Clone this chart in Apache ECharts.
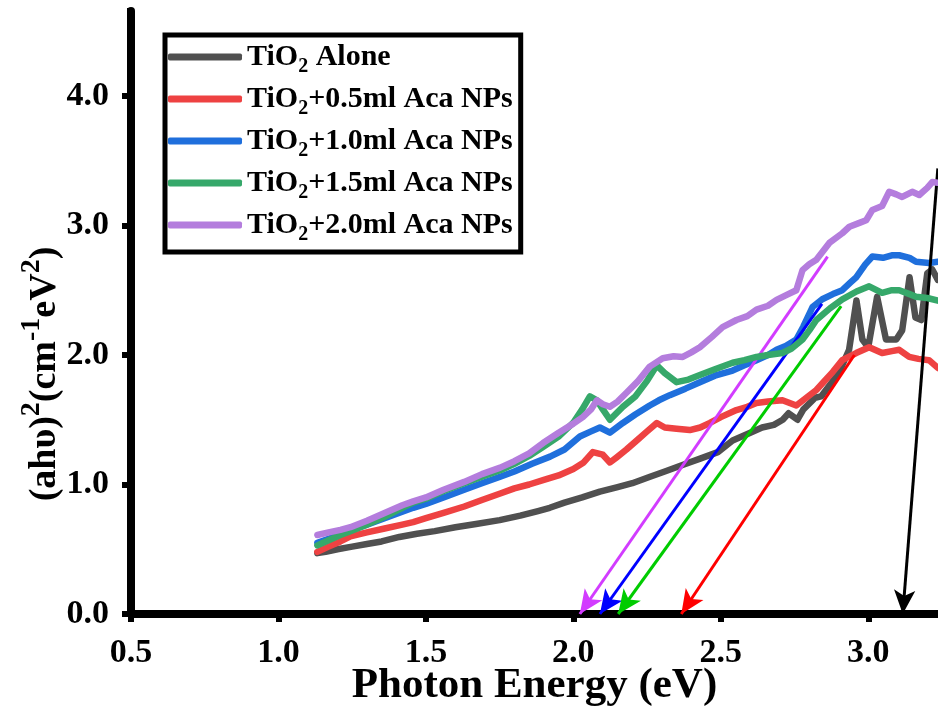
<!DOCTYPE html>
<html><head><meta charset="utf-8">
<script src="https://cdn.jsdelivr.net/npm/echarts@6/dist/echarts.min.js"></script>
<style>html,body{margin:0;padding:0;background:#fff}#c{width:938px;height:707px}</style>
</head><body><div id="c"></div>
<script>
// ---------- data ----------
const seriesNames = ['TiO2 Alone','TiO2+0.5ml Aca NPs','TiO2+1.0ml Aca NPs','TiO2+1.5ml Aca NPs','TiO2+2.0ml Aca NPs'];
const legendLabels = ['{t|TiO}{sub|2}{t| Alone}','{t|TiO}{sub|2}{t|+0.5ml Aca NPs}','{t|TiO}{sub|2}{t|+1.0ml Aca NPs}','{t|TiO}{sub|2}{t|+1.5ml Aca NPs}','{t|TiO}{sub|2}{t|+2.0ml Aca NPs}'];
const seriesColors = ['#505050','#ee4242','#1f6fdc','#36a86a','#b47ddd'];

const tio2Alone = [[1.132,0.47],[1.16,0.48],[1.20,0.50],[1.25,0.52],[1.30,0.54],[1.35,0.56],[1.41,0.595],[1.47,0.62],[1.53,0.64],[1.60,0.67],[1.67,0.695],[1.75,0.725],[1.82,0.76],[1.88,0.795],[1.92,0.82],[1.97,0.86],[2.03,0.90],[2.09,0.945],[2.15,0.98],[2.20,1.01],[2.26,1.06],[2.31,1.10],[2.37,1.15],[2.43,1.20],[2.49,1.25],[2.54,1.34],[2.60,1.40],[2.64,1.44],[2.68,1.46],[2.71,1.50],[2.73,1.55],[2.76,1.50],[2.78,1.58],[2.82,1.67],[2.84,1.68],[2.88,1.80],[2.90,1.86],[2.935,2.04],[2.96,2.42],[2.98,2.12],[3.00,2.06],[3.03,2.45],[3.06,2.12],[3.095,2.12],[3.115,2.19],[3.14,2.60],[3.16,2.29],[3.18,2.27],[3.20,2.63],[3.217,2.66],[3.236,2.58]];
const tio2Aca05 = [[1.132,0.48],[1.17,0.52],[1.21,0.56],[1.244,0.60],[1.30,0.63],[1.36,0.66],[1.42,0.69],[1.457,0.71],[1.50,0.74],[1.56,0.78],[1.63,0.83],[1.69,0.88],[1.752,0.93],[1.80,0.97],[1.85,1.00],[1.90,1.035],[1.95,1.07],[2.00,1.12],[2.035,1.17],[2.066,1.25],[2.10,1.23],[2.124,1.17],[2.147,1.21],[2.18,1.27],[2.215,1.34],[2.25,1.41],[2.283,1.475],[2.31,1.44],[2.35,1.43],[2.395,1.42],[2.43,1.44],[2.463,1.475],[2.50,1.52],[2.553,1.575],[2.59,1.60],[2.621,1.63],[2.66,1.64],[2.709,1.65],[2.756,1.61],[2.79,1.67],[2.824,1.73],[2.844,1.78],[2.88,1.87],[2.912,1.96],[2.959,2.015],[3.003,2.06],[3.047,2.015],[3.08,2.03],[3.105,2.04],[3.139,1.985],[3.17,1.97],[3.206,1.96],[3.236,1.90]];
const tio2Aca10 = [[1.132,0.55],[1.17,0.58],[1.21,0.62],[1.244,0.65],[1.30,0.69],[1.36,0.74],[1.42,0.79],[1.457,0.82],[1.50,0.85],[1.56,0.90],[1.63,0.96],[1.69,1.01],[1.752,1.06],[1.80,1.10],[1.86,1.16],[1.921,1.215],[1.97,1.27],[2.022,1.37],[2.06,1.41],[2.09,1.44],[2.124,1.40],[2.168,1.475],[2.21,1.54],[2.259,1.61],[2.29,1.65],[2.327,1.69],[2.38,1.74],[2.429,1.79],[2.48,1.84],[2.54,1.88],[2.58,1.92],[2.621,1.96],[2.66,2.00],[2.689,2.04],[2.72,2.07],[2.756,2.12],[2.78,2.22],[2.811,2.37],[2.844,2.43],[2.88,2.47],[2.912,2.50],[2.94,2.56],[2.959,2.60],[2.99,2.70],[3.014,2.76],[3.05,2.75],[3.08,2.77],[3.105,2.77],[3.14,2.75],[3.162,2.72],[3.206,2.71],[3.236,2.72]];
const tio2Aca15 = [[1.132,0.53],[1.17,0.57],[1.21,0.61],[1.244,0.64],[1.30,0.69],[1.36,0.75],[1.42,0.82],[1.457,0.86],[1.50,0.89],[1.56,0.95],[1.63,1.01],[1.69,1.06],[1.752,1.11],[1.80,1.16],[1.85,1.22],[1.897,1.29],[1.95,1.37],[1.999,1.475],[2.03,1.58],[2.056,1.68],[2.08,1.65],[2.10,1.58],[2.124,1.50],[2.168,1.60],[2.21,1.68],[2.25,1.80],[2.283,1.92],[2.31,1.86],[2.35,1.79],[2.39,1.81],[2.429,1.845],[2.48,1.89],[2.54,1.94],[2.58,1.96],[2.621,1.985],[2.66,2.00],[2.709,2.015],[2.74,2.05],[2.777,2.12],[2.80,2.19],[2.824,2.27],[2.87,2.36],[2.912,2.43],[2.96,2.49],[3.003,2.53],[3.047,2.48],[3.08,2.50],[3.105,2.50],[3.14,2.47],[3.162,2.45],[3.20,2.44],[3.236,2.42]];
const tio2Aca20 = [[1.132,0.61],[1.17,0.63],[1.21,0.65],[1.244,0.67],[1.30,0.72],[1.36,0.78],[1.42,0.84],[1.457,0.87],[1.50,0.90],[1.56,0.96],[1.63,1.02],[1.69,1.08],[1.752,1.13],[1.80,1.18],[1.85,1.24],[1.897,1.32],[1.95,1.40],[2.00,1.47],[2.032,1.52],[2.06,1.58],[2.08,1.65],[2.10,1.62],[2.124,1.60],[2.15,1.64],[2.181,1.71],[2.22,1.80],[2.259,1.91],[2.303,1.975],[2.34,1.99],[2.371,1.985],[2.40,2.02],[2.429,2.06],[2.47,2.14],[2.506,2.215],[2.553,2.27],[2.59,2.30],[2.621,2.35],[2.66,2.38],[2.689,2.425],[2.72,2.46],[2.756,2.50],[2.777,2.655],[2.80,2.70],[2.824,2.735],[2.868,2.865],[2.912,2.94],[2.936,2.99],[2.97,3.02],[2.993,3.04],[3.014,3.12],[3.047,3.15],[3.071,3.26],[3.095,3.24],[3.115,3.22],[3.149,3.26],[3.173,3.235],[3.20,3.29],[3.217,3.335],[3.236,3.33]];
const seriesData = [tio2Alone, tio2Aca05, tio2Aca10, tio2Aca15, tio2Aca20];

// Tangent (Tauc) arrows: [start point, end point on the energy axis]
const arrowColors = ['#000000','#ff0000','#0000ff','#00cc00','#d23cff'];
const arrowStarts = [[3.236,3.44],[2.953,2.00],[2.843,2.394],[2.908,2.378],[2.862,2.759]];
const arrowEnds   = [[3.117,0],[2.366,0],[2.090,0],[2.152,0],[2.022,0]];

const xMin = 0.5, xMax = 3.2365, xStep = 0.5, xMinorStep = 0.25;
const yMin = 0, yMax = 4.656, yStep = 1.0, yMinorStep = 0.5;
const xTitle = 'Photon Energy (eV)';
const yTitleRich = '{m|(ahυ)}{s|2}{m|(cm}{s|-1}{m|eV}{s|2}{m|)}';

// ---------- chart ----------
const FONT = '"Liberation Serif","Times New Roman",serif';
const chart = echarts.init(document.getElementById('c'), null, {renderer:'canvas'});

const series = seriesNames.map((n,i)=>({
  name:n, type:'line', data:seriesData[i], symbol:'none', showSymbol:false,
  lineStyle:{color:seriesColors[i], width:6.5, cap:'round', join:'round'},
  itemStyle:{color:seriesColors[i]}, z:2+i, animation:false, silent:true
}));
series.push({
  name:'arrows', type:'line', data:[], symbol:'none', silent:true, z:10, animation:false,
  markLine:{
    silent:true, animation:false, symbol:['none','arrow'], symbolSize:[16,24],
    label:{show:false}, emphasis:{disabled:true},
    data: arrowStarts.map((s,i)=>[
      {coord:s, lineStyle:{color:arrowColors[i], width:3, type:'solid'}, itemStyle:{color:arrowColors[i]}},
      {coord:arrowEnds[i]}
    ])
  }
});

const labelStyle = {fontSize:34, fontWeight:'bold', fontFamily:FONT, color:'#000'};

chart.setOption({
  animation:false,
  backgroundColor:'#fff',
  grid:{left:131, right:0, top:11, bottom:93, containLabel:false, outerBoundsMode:'none'},
  legend:{
    show:true, orient:'vertical', left:165, top:35,
    data:seriesNames, icon:'roundRect', itemWidth:74, itemHeight:7, itemGap:7,
    borderColor:'#000', borderWidth:5, padding:[7,8,7,3],
    formatter:(name)=>legendLabels[seriesNames.indexOf(name)],
    textStyle:{fontFamily:FONT, fontWeight:'bold', fontSize:30, color:'#000',
      rich:{
        t:{fontFamily:FONT, fontWeight:'bold', fontSize:30, lineHeight:40, color:'#000', verticalAlign:'middle'},
        sub:{fontFamily:FONT, fontWeight:'bold', fontSize:20, lineHeight:20, color:'#000', verticalAlign:'bottom'}
      }},
    selectedMode:false
  },
  xAxis:[
    {type:'value', min:xMin, max:xMax, interval:xStep, position:'bottom',
      axisLine:{show:true, onZero:false, lineStyle:{color:'#000', width:8}},
      axisTick:{show:true, length:8, lineStyle:{color:'#000', width:6}},
      splitLine:{show:false},
      axisLabel:Object.assign({margin:22, showMaxLabel:false, formatter:v=>v.toFixed(1)}, labelStyle),
      name:xTitle, nameLocation:'middle', nameGap:50, nameMoveOverlap:false,
      nameTextStyle:{fontSize:43, fontWeight:'bold', fontFamily:FONT, color:'#000', verticalAlign:'top'}
    },
    {type:'value', min:xMin, max:xMax, interval:xMinorStep, position:'bottom',
      axisLine:{show:false}, axisTick:{show:true, length:4, lineStyle:{color:'#000', width:6}},
      axisLabel:{show:false}, splitLine:{show:false}},
    {type:'value', min:xMin, max:xMax, position:'top',
      axisLine:{show:true, lineStyle:{color:'#000', width:7}},
      axisTick:{show:false}, axisLabel:{show:false}, splitLine:{show:false}}
  ],
  yAxis:[
    {type:'value', min:yMin, max:yMax, interval:yStep, position:'left',
      axisLine:{show:true, onZero:false, lineStyle:{color:'#000', width:8}},
      axisTick:{show:true, length:9, lineStyle:{color:'#000', width:6}},
      splitLine:{show:false},
      axisLabel:Object.assign({margin:22, showMaxLabel:false, formatter:v=>v.toFixed(1)}, labelStyle)
    },
    {type:'value', min:yMin, max:yMax, interval:yMinorStep, position:'left',
      axisLine:{show:false}, axisTick:{show:true, length:4, lineStyle:{color:'#000', width:6}},
      axisLabel:{show:false}, splitLine:{show:false}}
  ],
  graphic:[{
    type:'text', x:41, y:374, rotation:Math.PI/2, silent:true,
    style:{text:yTitleRich, align:'center', verticalAlign:'middle', fill:'#000',
      rich:{
        m:{fontFamily:FONT, fontWeight:'bold', fontSize:38, lineHeight:46, fill:'#000', verticalAlign:'bottom'},
        s:{fontFamily:FONT, fontWeight:'bold', fontSize:28, lineHeight:28, fill:'#000', verticalAlign:'top'}
      }}
  }],
  series:series
});
</script></body></html>
